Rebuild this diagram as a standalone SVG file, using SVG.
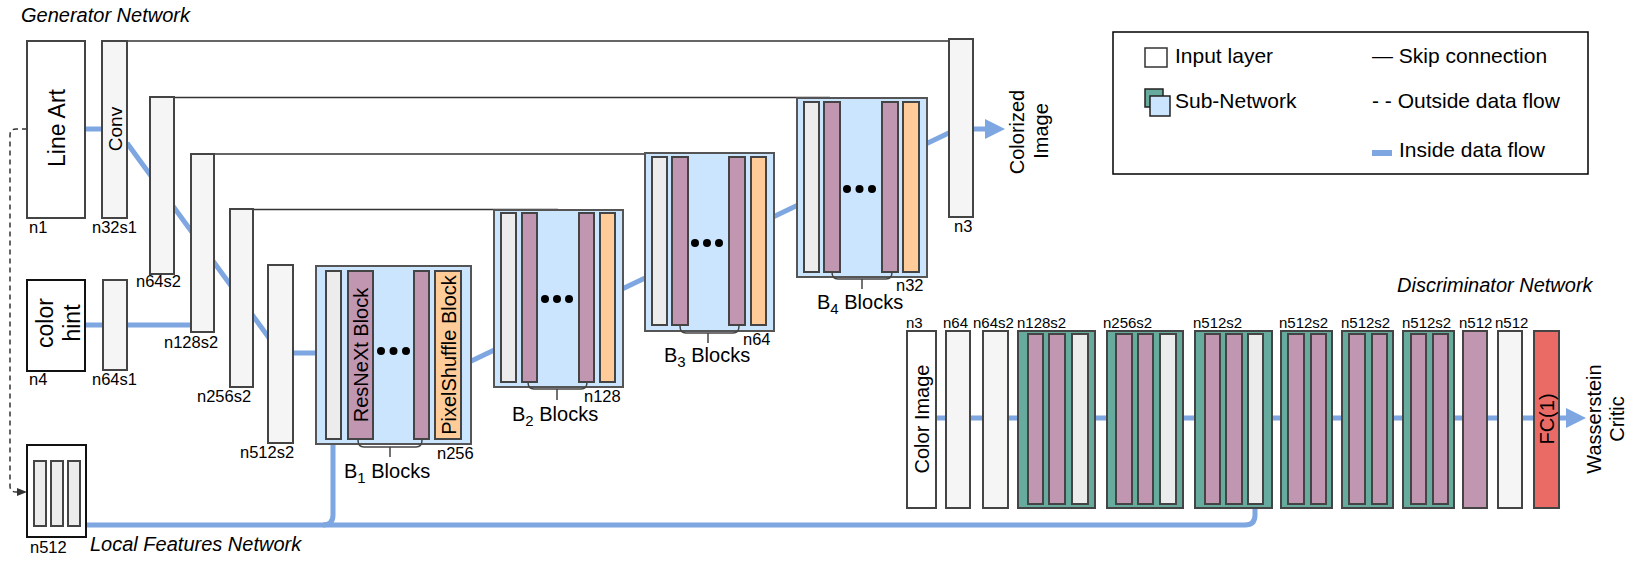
<svg xmlns="http://www.w3.org/2000/svg" width="1636" height="562" viewBox="0 0 1636 562">
<style>
text{font-family:"Liberation Sans",Arial,sans-serif;fill:#000}
.lbl{font-size:16.5px}
.dl{font-size:15px}
.title{font-size:20px;font-style:italic}
.big{font-size:23px}
.mid{font-size:20px}
.leg{font-size:21px}
.bar{fill:#f5f5f5;stroke:#444;stroke-width:2}
.ib{fill:#ececec;stroke:#444;stroke-width:2}
.pu{fill:#c196b0;stroke:#444;stroke-width:2}
.or{fill:#ffcc99;stroke:#444;stroke-width:2}
.sub{fill:#cce5ff;stroke:#555;stroke-width:2}
.tl{fill:#67ab9f;stroke:#444;stroke-width:2}
.in{fill:#fff;stroke:#444;stroke-width:2}
.inb{fill:#fff;stroke:#111;stroke-width:2}
.rd{fill:#ea6b66;stroke:#444;stroke-width:2}
.flow{fill:none;stroke:#7ea6e0;stroke-width:5}
.skip{fill:none;stroke:#333;stroke-width:1.5}
.brace{fill:none;stroke:#444;stroke-width:1.5}
.rot{text-anchor:middle;dominant-baseline:central}
.dot{fill:#000}
</style>

<g id="connectors">
  <path class="flow" d="M85,129 H102"/>
  <path class="flow" d="M127,143 L272,342 L280,353 H316"/>
  <path class="flow" d="M85,325 H191"/>
  <path class="flow" d="M465,364 L955,130"/>
  <path class="flow" d="M973,129 H987"/>
  <polygon points="985,119 1005,129 985,139" fill="#7ea6e0"/>
  <path class="flow" d="M936,418 H1568"/>
  <polygon points="1566,408 1586,418 1566,428" fill="#7ea6e0"/>
  <path class="flow" d="M86,525 H1245 Q1255,525 1255,515 V506"/>
  <path class="flow" d="M323,525 Q333,525 333,515 V444"/>
  <path d="M27,129 H16 Q10,129 10,135 V486 Q10,492 16,492 H19" fill="none" stroke="#333" stroke-width="1.5" stroke-dasharray="5,4"/>
  <polygon points="17,488 27,492 17,496" fill="#333"/>
  <path class="skip" d="M115,41 H949"/>
  <path class="skip" d="M160,97.5 H830"/>
  <path class="skip" d="M203,154 H708"/>
  <path class="skip" d="M242,209.5 H558"/>
</g>

<text class="title" x="21" y="22">Generator Network</text>

<g id="line-art">
  <rect class="in" x="27" y="41" width="58" height="177"/>
  <text class="big rot" transform="translate(57,128) rotate(-90)">Line Art</text>
  <text class="lbl" x="29" y="233">n1</text>
</g>
<g id="conv">
  <rect class="bar" x="102" y="41" width="25" height="177"/>
  <text class="rot" font-size="19" transform="translate(115,129) rotate(-90)">Conv</text>
  <text class="lbl" x="92" y="233">n32s1</text>
</g>
<g id="enc-n64s2">
  <rect class="bar" x="150" y="97" width="24" height="177"/>
  <text class="lbl" x="136" y="287">n64s2</text>
</g>
<g id="enc-n128s2">
  <rect class="bar" x="191" y="154" width="23" height="178"/>
  <text class="lbl" x="164" y="348">n128s2</text>
</g>
<g id="enc-n256s2">
  <rect class="bar" x="230" y="209" width="23" height="178"/>
  <text class="lbl" x="197" y="402">n256s2</text>
</g>
<g id="enc-n512s2">
  <rect class="bar" x="268" y="265" width="25" height="178"/>
  <text class="lbl" x="240" y="458">n512s2</text>
</g>
<g id="color-hint">
  <rect class="inb" x="27" y="280" width="58" height="91"/>
  <text class="big rot" transform="translate(45,323) rotate(-90)">color</text>
  <text class="big rot" transform="translate(72,323) rotate(-90)">hint</text>
  <text class="lbl" x="29" y="385">n4</text>
</g>
<g id="hint-n64s1">
  <rect class="bar" x="103" y="280" width="24" height="90"/>
  <text class="lbl" x="92" y="385">n64s1</text>
</g>

<g id="B1">
  <rect class="sub" x="316" y="266" width="155" height="178"/>
  <rect class="ib" x="326" y="271" width="15" height="168"/>
  <rect class="pu" x="348" y="271" width="25" height="168"/>
  <rect class="pu" x="414" y="271" width="15" height="168"/>
  <rect class="or" x="435" y="271" width="26" height="168"/>
  <text class="mid rot" transform="translate(361,355) rotate(-90)">ResNeXt Block</text>
  <text class="mid rot" transform="translate(448.5,355) rotate(-90)">PixelShuffle Block</text>
  <circle class="dot" cx="381" cy="351" r="4"/><circle class="dot" cx="393.5" cy="351" r="4"/><circle class="dot" cx="406" cy="351" r="4"/>
  <path class="brace" d="M358,440 Q358,447 364,447 H416 Q422,447 422,440 M390,447 V457"/>
  <text class="lbl" x="437" y="459">n256</text>
  <text class="mid" x="344" y="478">B<tspan font-size="15" dy="5">1</tspan><tspan dy="-5"> Blocks</tspan></text>
</g>
<g id="B2">
  <rect class="sub" x="494" y="210" width="129" height="177"/>
  <rect class="ib" x="501" y="213" width="15" height="169"/>
  <rect class="pu" x="522" y="213" width="15" height="169"/>
  <rect class="pu" x="579" y="213" width="15" height="169"/>
  <rect class="or" x="600" y="213" width="15" height="169"/>
  <circle class="dot" cx="545" cy="299" r="4"/><circle class="dot" cx="557" cy="299" r="4"/><circle class="dot" cx="569" cy="299" r="4"/>
  <path class="brace" d="M528,382 Q528,389 534,389 H581 Q587,389 587,382 M557,389 V400"/>
  <text class="lbl" x="584" y="402">n128</text>
  <text class="mid" x="512" y="421">B<tspan font-size="15" dy="5">2</tspan><tspan dy="-5"> Blocks</tspan></text>
</g>
<g id="B3">
  <rect class="sub" x="645" y="153" width="129" height="178"/>
  <rect class="ib" x="652" y="157" width="15" height="168"/>
  <rect class="pu" x="672" y="157" width="16" height="168"/>
  <rect class="pu" x="729" y="157" width="16" height="168"/>
  <rect class="or" x="751" y="157" width="15" height="168"/>
  <circle class="dot" cx="695" cy="243" r="4"/><circle class="dot" cx="707" cy="243" r="4"/><circle class="dot" cx="719" cy="243" r="4"/>
  <path class="brace" d="M680,326 Q680,333 686,333 H733 Q739,333 739,326 M708,333 V343"/>
  <text class="lbl" x="743" y="345">n64</text>
  <text class="mid" x="664" y="362">B<tspan font-size="15" dy="5">3</tspan><tspan dy="-5"> Blocks</tspan></text>
</g>
<g id="B4">
  <rect class="sub" x="797" y="98" width="130" height="179"/>
  <rect class="ib" x="804" y="102" width="15" height="170"/>
  <rect class="pu" x="824" y="102" width="16" height="170"/>
  <rect class="pu" x="882" y="102" width="16" height="170"/>
  <rect class="or" x="903" y="102" width="16" height="170"/>
  <circle class="dot" cx="847" cy="189" r="4"/><circle class="dot" cx="859.5" cy="189" r="4"/><circle class="dot" cx="872" cy="189" r="4"/>
  <path class="brace" d="M832,272 Q832,279 838,279 H886 Q892,279 892,272 M862,279 V289"/>
  <text class="lbl" x="896" y="291">n32</text>
  <text class="mid" x="817" y="309">B<tspan font-size="15" dy="5">4</tspan><tspan dy="-5"> Blocks</tspan></text>
</g>
<g id="out-n3">
  <rect class="bar" x="949" y="39" width="24" height="178"/>
  <text class="lbl" x="954" y="232">n3</text>
</g>
<g id="colorized-image">
  <text class="mid rot" transform="translate(1017,132) rotate(-90)">Colorized</text>
  <text class="mid rot" transform="translate(1041,131) rotate(-90)">Image</text>
</g>

<g id="local-features">
  <rect class="inb" x="27" y="445" width="59" height="92"/>
  <rect class="ib" x="34" y="461" width="12" height="65"/>
  <rect class="ib" x="51" y="461" width="12" height="65"/>
  <rect class="ib" x="68" y="461" width="12" height="65"/>
  <text class="lbl" x="30" y="553">n512</text>
  <text class="title" x="90" y="551">Local Features Network</text>
</g>

<text class="title" x="1397" y="292">Discriminator Network</text>
<g id="d-color-image">
  <rect class="in" x="907" y="331" width="29" height="177"/>
  <text class="mid rot" transform="translate(921.5,419) rotate(-90)">Color Image</text>
  <text class="dl" x="906" y="328">n3</text>
</g>
<g id="d-n64">
  <rect class="bar" x="946" y="331" width="24" height="177"/>
  <text class="dl" x="943" y="328">n64</text>
</g>
<g id="d-n64s2">
  <rect class="bar" x="983" y="331" width="25" height="177"/>
  <text class="dl" x="973" y="328">n64s2</text>
</g>
<g id="d-n128s2">
  <rect class="tl" x="1018" y="331" width="77" height="177"/>
  <rect class="pu" x="1028" y="334" width="15" height="170"/>
  <rect class="pu" x="1049" y="334" width="16" height="170"/>
  <rect class="ib" x="1072" y="334" width="16" height="170"/>
  <text class="dl" x="1017" y="328">n128s2</text>
</g>
<g id="d-n256s2">
  <rect class="tl" x="1107" y="331" width="76" height="177"/>
  <rect class="pu" x="1116" y="334" width="16" height="170"/>
  <rect class="pu" x="1138" y="334" width="15" height="170"/>
  <rect class="ib" x="1160" y="334" width="16" height="170"/>
  <text class="dl" x="1103" y="328">n256s2</text>
</g>
<g id="d-n512s2-a">
  <rect class="tl" x="1195" y="331" width="77" height="177"/>
  <rect class="pu" x="1205" y="334" width="15" height="170"/>
  <rect class="pu" x="1226" y="334" width="16" height="170"/>
  <rect class="ib" x="1248" y="334" width="15" height="170"/>
  <text class="dl" x="1193" y="328">n512s2</text>
</g>
<g id="d-n512s2-b">
  <rect class="tl" x="1281" y="331" width="51" height="177"/>
  <rect class="pu" x="1288" y="334" width="16" height="170"/>
  <rect class="pu" x="1311" y="334" width="15" height="170"/>
  <text class="dl" x="1279" y="328">n512s2</text>
</g>
<g id="d-n512s2-c">
  <rect class="tl" x="1342" y="331" width="51" height="177"/>
  <rect class="pu" x="1349" y="334" width="16" height="170"/>
  <rect class="pu" x="1372" y="334" width="15" height="170"/>
  <text class="dl" x="1341" y="328">n512s2</text>
</g>
<g id="d-n512s2-d">
  <rect class="tl" x="1403" y="331" width="51" height="177"/>
  <rect class="pu" x="1411" y="334" width="15" height="170"/>
  <rect class="pu" x="1433" y="334" width="15" height="170"/>
  <text class="dl" x="1402" y="328">n512s2</text>
</g>
<g id="d-n512-a">
  <rect class="pu" x="1463" y="331" width="24" height="177"/>
  <text class="dl" x="1459" y="328">n512</text>
</g>
<g id="d-n512-b">
  <rect class="bar" x="1498" y="331" width="24" height="177"/>
  <text class="dl" x="1495" y="328">n512</text>
</g>
<g id="d-fc">
  <rect class="rd" x="1534" y="331" width="25" height="177"/>
  <text class="mid rot" transform="translate(1546.5,419) rotate(-90)">FC(1)</text>
</g>
<g id="wasserstein-critic">
  <text class="mid rot" transform="translate(1594,419) rotate(-90)">Wasserstein</text>
  <text class="mid rot" transform="translate(1617,419) rotate(-90)">Critic</text>
</g>

<g id="legend">
  <rect x="1113" y="32" width="475" height="142" fill="#fff" stroke="#000" stroke-width="1.5"/>
  <rect x="1145" y="48" width="22" height="19" fill="#fff" stroke="#333" stroke-width="1.5"/>
  <text class="leg" x="1175" y="63">Input layer</text>
  <rect x="1145" y="89" width="18" height="18" fill="#67ab9f" stroke="#222" stroke-width="1.5"/>
  <rect x="1150" y="96" width="20" height="20" fill="#cce5ff" stroke="#222" stroke-width="1.5"/>
  <text class="leg" x="1175" y="108">Sub-Network</text>
  <text class="leg" x="1372" y="63">— Skip connection</text>
  <text class="leg" x="1372" y="108">- - Outside data flow</text>
  <rect x="1372" y="150" width="20" height="6" fill="#7ea6e0"/>
  <text class="leg" x="1399" y="157">Inside data flow</text>
</g>
</svg>
